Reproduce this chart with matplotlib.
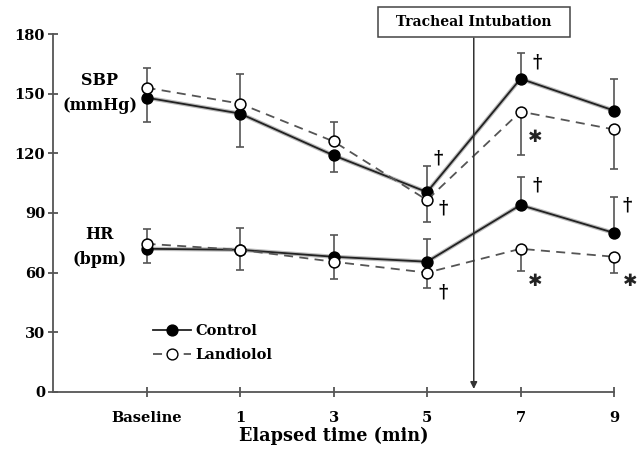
import matplotlib
matplotlib.use("Agg")
import matplotlib.pyplot as plt
from matplotlib.lines import Line2D
from matplotlib.patches import Rectangle
from matplotlib.transforms import IdentityTransform
import numpy as np

# ---- data ----
categories = ["Baseline", "1", "3", "5", "7", "9"]

sbp_control = [148, 140, 119, 100.5, 157.5, 141.5]
sbp_landiolol = [153, 145, 126, 96.5, 141, 132]
sbp_control_err_lo = [12, 17, 8.5, 0, 0, 0]
sbp_control_err_hi = [0, 0, 0, 13, 13, 16]
sbp_landiolol_err_lo = [0, 0, 0, 11, 22, 20]
sbp_landiolol_err_hi = [10, 15, 10, 0, 0, 0]

hr_control = [72, 71.5, 68, 65.5, 94, 80]
hr_landiolol = [74.5, 71.5, 65.5, 60, 72, 68]
hr_control_err_lo = [7, 0, 0, 0, 0, 0]
hr_control_err_hi = [0, 11, 11, 11.5, 14, 18]
hr_landiolol_err_lo = [0, 10, 8.7, 7.7, 11, 8]
hr_landiolol_err_hi = [7.5, 0, 0, 0, 0, 0]

yticks = [0, 30, 60, 90, 120, 150, 180]

FONT = "DejaVu Serif"
fig = plt.figure(figsize=(6.42, 4.54), dpi=100)
ax = fig.add_axes([0.0826, 0.1366, 0.8738, 0.7885])

x = np.arange(len(categories))
ecol = "#555555"
DASH = (0, (5, 3.5))
MS = 7.8

def draw(vals, lo, hi, filled, dashed):
    ax.errorbar(x, vals, yerr=[lo, hi], fmt="none", ecolor=ecol, elinewidth=1.2,
                capsize=2.8, capthick=1.2, clip_on=False, zorder=2)
    if not dashed:
        ax.plot(x, vals, color="#bbbbbb", lw=3, zorder=2.5, solid_capstyle="round")
    ax.plot(x, vals, linestyle=DASH if dashed else "-",
            color="#555555" if dashed else "#222222", lw=1.3,
            marker="o", markersize=MS,
            markerfacecolor="black" if filled else "white",
            markeredgecolor="black", markeredgewidth=1.1, zorder=3, clip_on=False)

draw(sbp_control, sbp_control_err_lo, sbp_control_err_hi, True, False)
draw(sbp_landiolol, sbp_landiolol_err_lo, sbp_landiolol_err_hi, False, True)
draw(hr_control, hr_control_err_lo, hr_control_err_hi, True, False)
draw(hr_landiolol, hr_landiolol_err_lo, hr_landiolol_err_hi, False, True)

ax.set_xlim(-1, len(categories) - 1)
ax.set_ylim(0, 180)
ax.set_yticks(yticks)
ax.set_xticks(x)
ax.set_xticklabels(categories)
for s in ["top", "right"]:
    ax.spines[s].set_visible(False)
for s in ["left", "bottom"]:
    ax.spines[s].set_color("#555555")
    ax.spines[s].set_linewidth(1.3)
ax.tick_params(direction="inout", length=7.5, width=1.3, color="#555555",
               labelsize=10.5)
ax.tick_params(axis="y", pad=2)
ax.tick_params(axis="x", pad=10)
for lab in ax.get_xticklabels() + ax.get_yticklabels():
    lab.set_fontfamily(FONT)
    lab.set_fontweight("bold")
ax.set_xlabel("Elapsed time (min)", fontfamily=FONT, fontweight="bold",
              fontsize=12.7, labelpad=1)

# group labels
tk = dict(fontfamily=FONT, fontweight="bold", fontsize=11.5, ha="center", va="center")
ax.text(-0.5, 156.4, "SBP", **tk)
ax.text(-0.5, 144.3, "(mmHg)", **tk)
ax.text(-0.5, 79, "HR", **tk)
ax.text(-0.5, 66.4, "(bpm)", **tk)

# significance marks
sym = dict(fontfamily=FONT, fontweight="bold", ha="center", va="center", clip_on=False)
asym = dict(fontfamily="DejaVu Sans", ha="center", va="center", clip_on=False,
            color="#222222")
dag = 13
ast = 12.5
ax.text(3.12, sbp_control[3] + 17, "†", fontsize=dag, **sym)
ax.text(3.17, sbp_landiolol[3] - 4, "†", fontsize=dag, **sym)
ax.text(4.18, sbp_control[4] + 8, "†", fontsize=dag, **sym)
ax.text(4.16, sbp_landiolol[4] - 13, "✱", fontsize=ast, **asym)
ax.text(3.17, hr_landiolol[3] - 10, "†", fontsize=dag, **sym)
ax.text(4.18, hr_control[4] + 10, "†", fontsize=dag, **sym)
ax.text(4.16, hr_landiolol[4] - 16, "✱", fontsize=ast, **asym)
ax.text(5.14, hr_control[5] + 14, "†", fontsize=dag, **sym)
ax.text(5.17, hr_landiolol[5] - 12, "✱", fontsize=ast, **asym)

# intubation arrow & box
ax.annotate("", xy=(3.5, 1.5), xytext=(3.5, 178),
            arrowprops=dict(arrowstyle="-|>", color="#333333", lw=1.1,
                            mutation_scale=10, shrinkA=0, shrinkB=0),
            annotation_clip=False)
t = ax.text(3.5, 186, "Tracheal Intubation", fontfamily=FONT, fontweight="bold",
            fontsize=10, ha="center", va="center", clip_on=False, zorder=6)
fig.canvas.draw()
bb = t.get_window_extent(renderer=fig.canvas.get_renderer())
padx, pady = 18, 8
rect = Rectangle((bb.x0 - padx, bb.y0 - pady), bb.width + 2 * padx,
                 bb.height + 2 * pady, transform=IdentityTransform(),
                 facecolor="white", edgecolor="#444444", lw=1.1, zorder=5,
                 clip_on=False)
ax.add_artist(rect)

# legend
h1 = Line2D([], [], color="#222222", lw=1.3, marker="o", markersize=MS,
            markerfacecolor="black", markeredgecolor="black")
h2 = Line2D([], [], color="#555555", lw=1.3, linestyle=DASH, marker="o",
            markersize=MS, markerfacecolor="white", markeredgecolor="black")
leg = ax.legend([h1, h2], ["Control", "Landiolol"], loc="upper left",
                bbox_to_anchor=(0.155, 0.226), frameon=False, handlelength=2.6,
                handletextpad=0.3, labelspacing=0.65,
                prop=dict(family=FONT, weight="bold", size=10.5))

fig.savefig("out.png", dpi=100)
